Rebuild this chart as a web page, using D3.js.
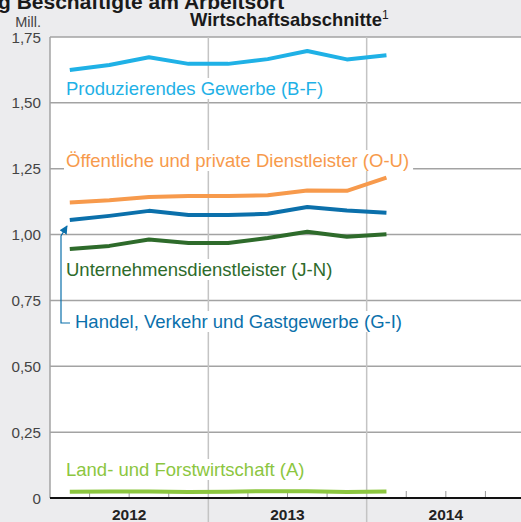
<!DOCTYPE html>
<html>
<head>
<meta charset="utf-8">
<script src="https://cdn.jsdelivr.net/npm/d3@7"></script>
<style>
  body { margin: 0; background: #ececee; overflow: hidden; }
  text { font-family: "Liberation Sans", Arial, sans-serif; }
</style>
</head>
<body>
<script>
// Quarterly values Q1 2012 .. Q1 2014, millions
const quarters = ['2012Q1', '2012Q2', '2012Q3', '2012Q4', '2013Q1', '2013Q2', '2013Q3', '2013Q4', '2014Q1'];
const years = ['2012', '2013', '2014'];
const produzierend = [1.625, 1.644, 1.673, 1.648, 1.648, 1.666, 1.697, 1.665, 1.681];
const oeffentlich = [1.122, 1.130, 1.143, 1.146, 1.146, 1.149, 1.167, 1.166, 1.216];
const handel = [1.055, 1.071, 1.090, 1.074, 1.074, 1.079, 1.105, 1.091, 1.083];
const unternehmen = [0.945, 0.957, 0.981, 0.968, 0.968, 0.987, 1.011, 0.992, 1.001];
const landwirtschaft = [0.024, 0.025, 0.025, 0.023, 0.024, 0.026, 0.026, 0.023, 0.025];
const yTicks = [0, 0.25, 0.5, 0.75, 1, 1.25, 1.5, 1.75];

const w = 521;
const h = 522;
const plotLeft = 50;
const plotTop = 37;
const plotBottom = 498;

const x = d3.scaleLinear().domain([0, 12]).range([plotLeft, 525]);
const y = d3.scaleLinear().domain([0, 1.75]).range([plotBottom, plotTop]);
const fmt = d => d === 0 ? '0' : d3.format('.2f')(d).replace('.', ',');

const svg = d3.select('body').append('svg').attr('width', w).attr('height', h);

// Headings (top line is cropped in the original)
svg.append('text')
  .attr('x', -2).attr('y', 9)
  .attr('font-size', 21).attr('font-weight', 'bold').attr('fill', '#1a1a1a')
  .text('g Beschäftigte am Arbeitsort');

const title = svg.append('text')
  .attr('x', 190).attr('y', 26)
  .attr('font-size', 18.4).attr('font-weight', 'bold').attr('fill', '#1a1a1a')
  .text('Wirtschaftsabschnitte');
title.append('tspan').attr('font-size', 12).attr('font-weight', 'normal').attr('dy', -7).text('1');

svg.append('text')
  .attr('x', 41).attr('y', 27).attr('text-anchor', 'end')
  .attr('font-size', 14.5).attr('fill', '#444').text('Mill.');

// Plot area
svg.append('rect')
  .attr('x', plotLeft).attr('y', plotTop)
  .attr('width', w - plotLeft).attr('height', plotBottom - plotTop)
  .attr('fill', '#fff');

// Horizontal grid
svg.append('g')
  .selectAll('line')
  .data(yTicks.filter(d => d > 0))
  .enter()
  .append('line')
  .attr('x1', plotLeft).attr('x2', w)
  .attr('y1', d => y(d)).attr('y2', d => y(d))
  .attr('stroke', '#a3a3a3').attr('stroke-width', 1.5);

// Year separators
svg.append('g')
  .selectAll('line')
  .data([4, 8])
  .enter()
  .append('line')
  .attr('x1', d => x(d)).attr('x2', d => x(d))
  .attr('y1', plotTop).attr('y2', h)
  .attr('stroke', '#c4c4c4').attr('stroke-width', 1.5);

// Left border
svg.append('line')
  .attr('x1', plotLeft).attr('x2', plotLeft).attr('y1', plotTop).attr('y2', plotBottom)
  .attr('stroke', '#a3a3a3').attr('stroke-width', 1.5);

// Y labels
svg.append('g')
  .selectAll('text')
  .data(yTicks)
  .enter()
  .append('text')
  .attr('x', 41).attr('y', d => y(d) + 5.5)
  .attr('text-anchor', 'end')
  .attr('font-size', 15.2).attr('fill', '#444')
  .text(fmt);

// Quarter ticks
svg.append('g')
  .selectAll('line')
  .data([1, 2, 3, 5, 6, 7, 9, 10, 11])
  .enter()
  .append('line')
  .attr('x1', d => x(d)).attr('x2', d => x(d))
  .attr('y1', plotBottom - 7).attr('y2', plotBottom)
  .attr('stroke', '#999').attr('stroke-width', 1);

// X axis line
svg.append('line')
  .attr('x1', plotLeft).attr('x2', w).attr('y1', plotBottom).attr('y2', plotBottom)
  .attr('stroke', '#111').attr('stroke-width', 2);

// Year labels
svg.append('g')
  .selectAll('text')
  .data(years)
  .enter()
  .append('text')
  .attr('x', (d, i) => x(i * 4 + 2))
  .attr('y', 520)
  .attr('text-anchor', 'middle')
  .attr('font-size', 15.5).attr('font-weight', 'bold').attr('fill', '#222')
  .text(d => d);

// Series
const series = [
  { values: produzierend, color: '#1fb1e6', label: 'Produzierendes Gewerbe (B-F)', lx: 66, ly: 95 },
  { values: oeffentlich, color: '#f79a4c', label: 'Öffentliche und private Dienstleister (O-U)', lx: 66, ly: 167 },
  { values: handel, color: '#0b70ab', label: 'Handel, Verkehr und Gastgewerbe (G-I)', lx: 75, ly: 328 },
  { values: unternehmen, color: '#2e6b2b', label: 'Unternehmensdienstleister (J-N)', lx: 66, ly: 276 },
  { values: landwirtschaft, color: '#8cc63f', label: 'Land- und Forstwirtschaft (A)', lx: 66, ly: 476 }
];

// Labels with white backing
const labels = svg.append('g');
series.forEach(s => {
  const t = labels.append('text')
    .attr('x', s.lx).attr('y', s.ly)
    .attr('font-size', 18.5).attr('fill', s.color)
    .text(s.label);
  const bb = t.node().getBBox();
  labels.insert('rect', 'text')
    .attr('x', bb.x - 2).attr('y', bb.y)
    .attr('width', bb.width + 6).attr('height', bb.height)
    .attr('fill', '#fff');
});

const line = d3.line()
  .x((d, i) => x(i + 0.5))
  .y(d => y(d));

svg.append('g')
  .selectAll('path')
  .data(series)
  .enter()
  .append('path')
  .attr('d', d => line(d.values))
  .attr('fill', 'none')
  .attr('stroke', d => d.color)
  .attr('stroke-width', 4)
  .attr('stroke-linejoin', 'round');

// Leader arrow for Handel label
svg.append('defs').append('marker')
  .attr('id', 'arr')
  .attr('viewBox', '0 0 10 10')
  .attr('refX', 9).attr('refY', 5)
  .attr('markerWidth', 7).attr('markerHeight', 7)
  .attr('orient', 'auto')
  .append('path')
  .attr('d', 'M0,0L10,5L0,10Z')
  .attr('fill', '#0b70ab');

svg.append('path')
  .attr('d', 'M70,323L61,323L61,236L67,226')
  .attr('fill', 'none')
  .attr('stroke', '#0b70ab')
  .attr('stroke-width', 1.2)
  .attr('marker-end', 'url(#arr)');
</script>
</body>
</html>
